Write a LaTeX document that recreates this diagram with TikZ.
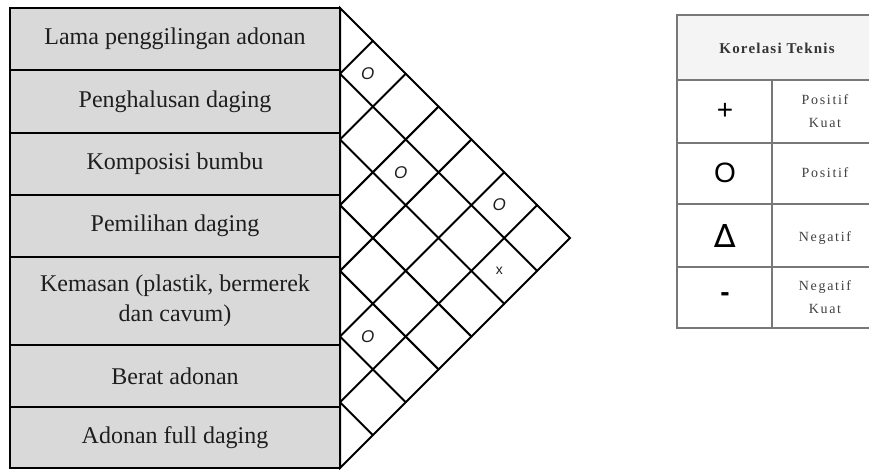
\documentclass[tikz,border=0pt]{standalone}
\usepackage{fontspec}
\setmainfont{Liberation Serif}
\setsansfont{Liberation Sans}
\newfontfamily\symbfont{DejaVu Sans}
\usepackage{xcolor}
\usetikzlibrary{math}
\definecolor{mygray}{RGB}{217, 217, 217}
\definecolor{myhead}{RGB}{244, 244, 244}
\definecolor{myline}{RGB}{120, 120, 120}
\definecolor{mytext}{RGB}{30, 30, 30}

\begin{document}
\begin{tikzpicture}[x=0.5pt,y=-0.5pt,
  itembox/.style={draw=black,line width=1,fill=mygray,inner sep=0,outer sep=0,
    minimum width=165pt,align=center,text=mytext,font=\fontsize{12}{15}\selectfont},
  roofline/.style={line width=1,line cap=round},
  tabline/.style={draw=myline,line width=0.6},
  cellmark/.style={inner sep=0,text=mytext,font=\sffamily\itshape\fontsize{8.5}{8.5}\selectfont},
  symb/.style={inner sep=0,text=black,font=\sffamily\fontsize{14}{14}\selectfont},
  desc/.style={inner sep=0,align=center,text=mytext!85,
    font=\fontsize{7}{11.5}\selectfont\addfontfeature{LetterSpace=12}}]
\tikzmath{
\xl=10;
\xr=340;
\yt=8;
\ybot=468;
\L=\ybot-\yt;
\h=\L/7;
\tl=677;
\tr=869;
\tm=772;
}
\useasboundingbox (0,0) rectangle (869,470);

% kolom kebutuhan teknis
\foreach \ya/\yz/\nm/\txt in {8/70/lama/{Lama penggilingan adonan},
  70/133/halus/{Penghalusan daging},
  133/195/bumbu/{Komposisi bumbu},
  195/257/pilih/{Pemilihan daging},
  257/345/kemas/{Kemasan (plastik, bermerek\\dan cavum)},
  345/407/berat/{Berat adonan},
  407/468/full/{Adonan full daging}}
  \node[itembox,minimum height={(\yz-\ya)*0.5pt}] (\nm) at ({(\xl+\xr)/2},{(\ya+\yz)/2}) {\txt};

% atap korelasi
\coordinate (R1) at (\xr,\yt);
\coordinate (R2) at (\xr+\L/2,\yt+\L/2);
\coordinate (R3) at (\xr,\ybot);
\draw[roofline] (R1) -- (R2) -- (R3) -- cycle;
\foreach \k in {1,...,6}{
  \draw[roofline] (\xr,\yt+\k*\h) -- +({(\L-\k*\h)/2},{(\L-\k*\h)/2});
  \draw[roofline] (\xr,\yt+\k*\h) -- +({\k*\h/2},{-\k*\h/2});
}
\foreach \i/\j/\mk in {0/1/O,1/3/O,0/5/O,4/5/O}
  \node[cellmark] (m\i\j) at ({\xr+(\j-\i)*\h/2-5},{\yt+(\i+\j+1)*\h/2}) {\mk};
\node[cellmark,font=\sffamily\fontsize{7}{7}\selectfont] (m16) at ({\xr+5*\h/2-5},{\yt+8*\h/2}) {x};

% tabel korelasi teknis
\fill[myhead] (\tl,15) rectangle (\tr,80);
\draw[tabline] (\tr,15) -- (\tl,15) -- (\tl,328) -- (\tr,328);
\foreach \y in {80,143,204,267}
  \draw[tabline] (\tl,\y) -- (\tr,\y);
\draw[tabline] (\tm,80) -- (\tm,328);
\node[inner sep=0,text=mytext!90,
  font=\bfseries\fontsize{7.5}{9}\selectfont\addfontfeature{LetterSpace=8}] (judul) at (777,48) {Korelasi Teknis};

\node[symb] (s1) at (725,111) {+};
\node[symb] (s2) at (725,173) {O};
\node[symb,font=\symbfont\fontsize{16}{16}\selectfont] (s3) at (725,236) {∆};
\node[symb,font=\sffamily\bfseries\fontsize{14}{14}\selectfont] (s4) at (725,297) {-};

\node[desc] (d1) at (825,111) {Positif\\Kuat};
\node[desc] (d2) at (825,173) {Positif};
\node[desc] (d3) at (825,238) {Negatif};
\node[desc] (d4) at (825,297) {Negatif\\Kuat};
\end{tikzpicture}
\end{document}
